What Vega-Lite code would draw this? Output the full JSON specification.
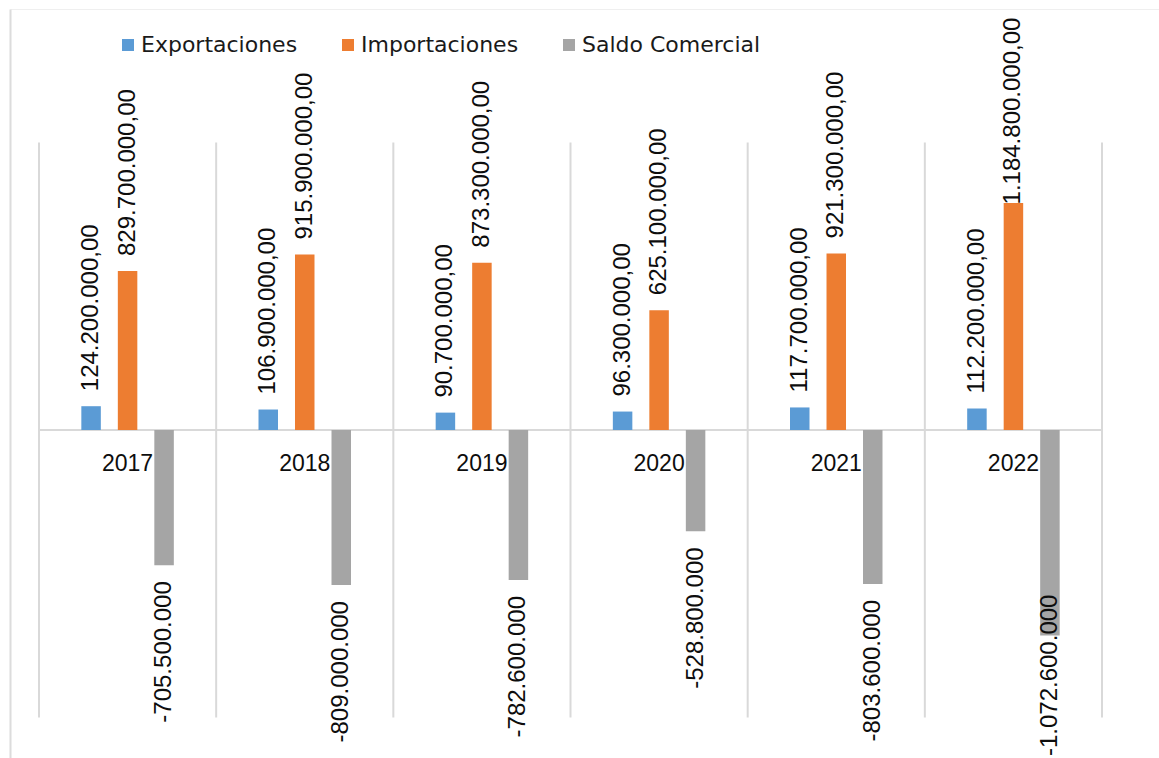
{
  "$schema": "https://vega.github.io/schema/vega-lite/v6.json",
  "width": 1149,
  "height": 749,
  "autosize": {"type": "none"},
  "padding": {"left": 10, "top": 9, "right": 0, "bottom": 0},
  "background": "white",
  "config": {"view": {"stroke": null}, "font": "Liberation Sans"},
  "data": {
    "values": [
      {"year": "2017", "series": "Exportaciones", "value": 124200000, "label": "124.200.000,00"},
      {"year": "2017", "series": "Importaciones", "value": 829700000, "label": "829.700.000,00"},
      {"year": "2017", "series": "Saldo Comercial", "value": -705500000, "label": "-705.500.000"},
      {"year": "2018", "series": "Exportaciones", "value": 106900000, "label": "106.900.000,00"},
      {"year": "2018", "series": "Importaciones", "value": 915900000, "label": "915.900.000,00"},
      {"year": "2018", "series": "Saldo Comercial", "value": -809000000, "label": "-809.000.000"},
      {"year": "2019", "series": "Exportaciones", "value": 90700000, "label": "90.700.000,00"},
      {"year": "2019", "series": "Importaciones", "value": 873300000, "label": "873.300.000,00"},
      {"year": "2019", "series": "Saldo Comercial", "value": -782600000, "label": "-782.600.000"},
      {"year": "2020", "series": "Exportaciones", "value": 96300000, "label": "96.300.000,00"},
      {"year": "2020", "series": "Importaciones", "value": 625100000, "label": "625.100.000,00"},
      {"year": "2020", "series": "Saldo Comercial", "value": -528800000, "label": "-528.800.000"},
      {"year": "2021", "series": "Exportaciones", "value": 117700000, "label": "117.700.000,00"},
      {"year": "2021", "series": "Importaciones", "value": 921300000, "label": "921.300.000,00"},
      {"year": "2021", "series": "Saldo Comercial", "value": -803600000, "label": "-803.600.000"},
      {"year": "2022", "series": "Exportaciones", "value": 112200000, "label": "112.200.000,00"},
      {"year": "2022", "series": "Importaciones", "value": 1184800000, "label": "1.184.800.000,00"},
      {"year": "2022", "series": "Saldo Comercial", "value": -1072600000, "label": "-1.072.600.000"}
    ]
  },
  "layer": [
    {
      "transform": [{"filter": "datum.series === 'Exportaciones'"}],
      "mark": {"type": "rule", "color": "#d9d9d9", "strokeWidth": 2},
      "encoding": {
        "x": {"field": "year", "type": "nominal", "bandPosition": 0,
              "scale": {"paddingInner": 0, "paddingOuter": 0.24265, "align": 0.3372},
              "axis": {"orient": "top", "labels": false, "ticks": false, "grid": false, "title": null, "domainColor": "#efefef", "domainWidth": 1}},
        "y": {"datum": -1500000000, "type": "quantitative",
              "scale": {"domain": [-1711500000, 2196800000], "nice": false, "zero": false},
              "axis": {"orient": "left", "labels": false, "ticks": false, "grid": false, "title": null, "domainColor": "#dcdcdc", "domainWidth": 2}},
        "y2": {"datum": 1500000000}
      }
    },
    {
      "transform": [{"filter": "datum.series === 'Exportaciones' && datum.year === '2022'"}],
      "mark": {"type": "rule", "color": "#d9d9d9", "strokeWidth": 2},
      "encoding": {
        "x": {"field": "year", "type": "nominal", "bandPosition": 1,
              "axis": {"orient": "top", "labels": false, "ticks": false, "grid": false, "title": null, "domainColor": "#efefef", "domainWidth": 1}},
        "y": {"datum": -1500000000, "type": "quantitative",
              "axis": {"orient": "left", "labels": false, "ticks": false, "grid": false, "title": null, "domainColor": "#dcdcdc", "domainWidth": 2}},
        "y2": {"datum": 1500000000}
      }
    },
    {
      "transform": [{"filter": "datum.series === 'Exportaciones'"}],
      "mark": {"type": "bar", "fillOpacity": 0, "stroke": "#d9d9d9", "strokeWidth": 2},
      "encoding": {
        "x": {"field": "year", "type": "nominal",
              "axis": {"orient": "top", "labels": false, "ticks": false, "grid": false, "title": null, "domainColor": "#efefef", "domainWidth": 1}},
        "y": {"datum": 0, "type": "quantitative",
              "axis": {"orient": "left", "labels": false, "ticks": false, "grid": false, "title": null, "domainColor": "#dcdcdc", "domainWidth": 2}},
        "y2": {"datum": 0}
      }
    },
    {
      "transform": [{"filter": "datum.series === 'Exportaciones'"}],
      "mark": {"type": "text", "fontSize": 23, "font": "Liberation Sans", "color": "#0d0d0d", "align": "center", "baseline": "alphabetic", "dy": 41},
      "encoding": {
        "x": {"field": "year", "type": "nominal",
              "axis": {"orient": "top", "labels": false, "ticks": false, "grid": false, "title": null, "domainColor": "#efefef", "domainWidth": 1}},
        "y": {"datum": 0, "type": "quantitative",
              "axis": {"orient": "left", "labels": false, "ticks": false, "grid": false, "title": null, "domainColor": "#dcdcdc", "domainWidth": 2}},
        "text": {"field": "year"}
      }
    },
    {
      "mark": {"type": "bar"},
      "encoding": {
        "x": {"field": "year", "type": "nominal",
              "axis": {"orient": "top", "labels": false, "ticks": false, "grid": false, "title": null, "domainColor": "#efefef", "domainWidth": 1}},
        "xOffset": {"field": "series", "type": "nominal",
                    "scale": {"domain": ["pl", "Exportaciones", "Importaciones", "Saldo Comercial", "pr"], "paddingInner": 0.4658, "paddingOuter": 0.16}},
        "y": {"field": "value", "type": "quantitative",
              "axis": {"orient": "left", "labels": false, "ticks": false, "grid": false, "title": null, "domainColor": "#dcdcdc", "domainWidth": 2}},
        "y2": {"datum": 0},
        "color": {"field": "series", "type": "nominal",
                  "scale": {"domain": ["Exportaciones", "Importaciones", "Saldo Comercial"], "range": ["#5b9bd5", "#ed7d31", "#a5a5a5"]},
                  "legend": {"orient": "none", "legendX": 107, "legendY": 25, "direction": "horizontal", "title": null,
                             "symbolType": "square", "symbolSize": 144, "symbolStrokeWidth": 0,
                             "labelFont": "DejaVu Sans", "labelFontSize": 22, "labelColor": "#1a1a1a",
                             "labelOffset": 2, "columnPadding": 39, "padding": 0, "labelLimit": 400}}
      }
    },
    {
      "transform": [{"filter": "datum.value > 0 && !(datum.year === '2022' && datum.series === 'Importaciones')"}],
      "mark": {"type": "text", "fontSize": 24, "font": "Liberation Sans", "color": "#0d0d0d", "angle": 270, "align": "left", "baseline": "middle", "dx": 15},
      "encoding": {
        "x": {"field": "year", "type": "nominal"},
        "xOffset": {"field": "series", "type": "nominal"},
        "y": {"field": "value", "type": "quantitative"},
        "text": {"field": "label"}
      }
    },
    {
      "transform": [{"filter": "datum.value < 0 && datum.year !== '2022'"}],
      "mark": {"type": "text", "fontSize": 24, "font": "Liberation Sans", "color": "#0d0d0d", "angle": 270, "align": "right", "baseline": "middle", "dx": -16},
      "encoding": {
        "x": {"field": "year", "type": "nominal"},
        "xOffset": {"field": "series", "type": "nominal"},
        "y": {"field": "value", "type": "quantitative"},
        "text": {"field": "label"}
      }
    },
    {
      "transform": [{"filter": "datum.year === '2022' && datum.series === 'Importaciones'"}],
      "mark": {"type": "text", "fontSize": 24, "font": "Liberation Sans", "color": "#0d0d0d", "angle": 270, "align": "left", "baseline": "middle", "dx": -1.5},
      "encoding": {
        "x": {"field": "year", "type": "nominal"},
        "xOffset": {"field": "series", "type": "nominal"},
        "y": {"field": "value", "type": "quantitative"},
        "text": {"field": "label"}
      }
    },
    {
      "transform": [{"filter": "datum.year === '2022' && datum.series === 'Saldo Comercial'"}],
      "mark": {"type": "text", "fontSize": 24, "font": "Liberation Sans", "color": "#0d0d0d", "angle": 270, "align": "right", "baseline": "middle", "dx": 41},
      "encoding": {
        "x": {"field": "year", "type": "nominal"},
        "xOffset": {"field": "series", "type": "nominal"},
        "y": {"field": "value", "type": "quantitative"},
        "text": {"field": "label"}
      }
    }
  ]
}
